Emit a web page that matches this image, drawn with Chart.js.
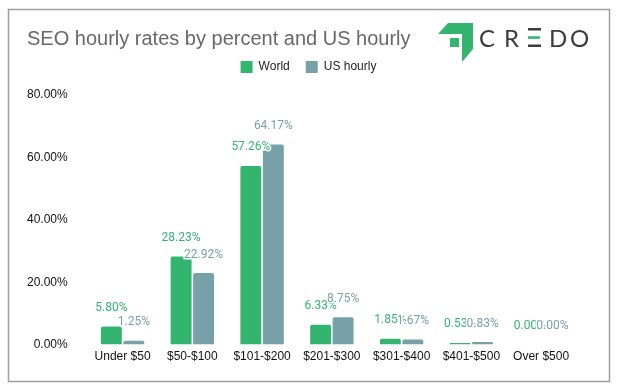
<!DOCTYPE html>
<html lang="en">
<head>
  <meta charset="UTF-8">
  <title>SEO hourly rates</title>
  <style>
    body { margin: 0; background: #fff; }
    .card { width: 621px; height: 388px; position: relative; }
  </style>
</head>
<body>
  <div class="card">
    <canvas id="SeoChart"></canvas>
  </div>
<script src="https://cdn.jsdelivr.net/npm/chart.js"></script>
<script>
  // dados
  const categorias = ['Under $50', '$50-$100', '$101-$200', '$201-$300', '$301-$400', '$401-$500', 'Over $500'];
  const world = [5.80, 28.23, 57.26, 6.33, 1.85, 0.53, 0.00];
  const usHourly = [1.25, 22.92, 64.17, 8.75, 1.67, 0.83, 0.00];
  const yTicks = [0, 20, 40, 60, 80];

  const verde = '#33b56f';
  const cinza = '#78a0a9';
  const fonteEixo = "'Liberation Sans', Arial, sans-serif";

  // moldura, título e logo
  const moldura = {
    id: 'moldura',
    beforeInit(chart) {
      // espaço extra abaixo da legenda
      const fitOriginal = chart.legend.fit;
      chart.legend.fit = function () {
        fitOriginal.bind(chart.legend)();
        this.height += 12;
      };
    },
    afterLayout(chart) {
      // legenda um pouco para a direita
      chart.legend.left += 17;
      chart.legend.right += 17;
    },
    beforeDraw(chart) {
      const ctx = chart.ctx;
      ctx.save();
      ctx.fillStyle = '#fff';
      ctx.fillRect(0, 0, chart.width, chart.height);
      ctx.strokeStyle = '#9e9e9e';
      ctx.lineWidth = 1.5;
      ctx.strokeRect(8.5, 9.5, 601, 372);

      ctx.fillStyle = '#686868';
      ctx.font = '20px ' + fonteEixo;
      ctx.textBaseline = 'middle';
      ctx.fillText('SEO hourly rates by percent and US hourly', 27, 39);

      // icone
      ctx.fillStyle = verde;
      ctx.beginPath();
      ctx.moveTo(438, 34);
      ctx.lineTo(448, 23);
      ctx.lineTo(473, 23);
      ctx.lineTo(473, 49);
      ctx.lineTo(463, 61);
      ctx.lineTo(462, 61);
      ctx.lineTo(462, 34);
      ctx.closePath();
      ctx.fill();
      ctx.fillRect(450, 38, 9, 9);

      // CREDO
      ctx.fillStyle = '#3c3c3c';
      ctx.font = '24px Lato, sans-serif';
      ctx.textBaseline = 'alphabetic';
      ctx.fillText('C', 479, 47);
      ctx.fillText('R', 504, 47);
      ctx.fillRect(528, 28, 13, 2.5);
      ctx.fillRect(528, 44.5, 13, 2.5);
      ctx.fillStyle = verde;
      ctx.fillRect(528, 36.3, 12, 2.5);
      ctx.fillStyle = '#3c3c3c';
      ctx.fillText('D', 549, 47);
      ctx.fillText('O', 570, 47);
      ctx.restore();
    }
  };

  // rótulos de dados acima das barras
  const rotulos = {
    id: 'rotulos',
    afterDatasetsDraw(chart) {
      const ctx = chart.ctx;
      ctx.save();
      ctx.font = '12px Roboto, sans-serif';
      ctx.textAlign = 'center';
      ctx.textBaseline = 'middle';
      ctx.lineJoin = 'round';
      chart.data.datasets.forEach((ds, i) => {
        const meta = chart.getDatasetMeta(i);
        meta.data.forEach((bar, j) => {
          const txt = ds.data[j].toFixed(2) + '%';
          const y = bar.y - 18.5;
          ctx.strokeStyle = '#fff';
          ctx.lineWidth = 3;
          ctx.strokeText(txt, bar.x, y);
          ctx.fillStyle = ds.backgroundColor;
          ctx.fillText(txt, bar.x, y);
        });
      });
      ctx.restore();
    }
  };

  const ctx = document.getElementById('SeoChart').getContext('2d');
  new Chart(ctx, {
    type: 'bar',
    data: {
      labels: categorias,
      datasets: [{
        label: 'World',
        data: world,
        backgroundColor: verde,
        borderRadius: 2,
        categoryPercentage: 0.645,
        barPercentage: 0.93
      }, {
        label: 'US hourly',
        data: usHourly,
        backgroundColor: cinza,
        borderRadius: 2,
        categoryPercentage: 0.645,
        barPercentage: 0.93
      }]
    },
    options: {
      responsive: true,
      maintainAspectRatio: false,
      animation: false,
      layout: {
        padding: { top: 45, left: 7, right: 45, bottom: 19 }
      },
      plugins: {
        title: { display: false },
        tooltip: { enabled: false },
        legend: {
          position: 'top',
          labels: {
            boxWidth: 12,
            boxHeight: 12,
            padding: 16,
            color: '#222',
            font: { family: fonteEixo, size: 12 }
          }
        }
      },
      scales: {
        x: {
          grid: { display: false, tickLength: 0 },
          border: { display: false },
          ticks: {
            color: '#111',
            padding: 5,
            maxRotation: 0,
            font: { family: fonteEixo, size: 12 }
          }
        },
        y: {
          min: yTicks[0],
          max: yTicks[yTicks.length - 1],
          afterBuildTicks(scale) {
            scale.ticks = yTicks.map(v => ({ value: v }));
          },
          grid: { display: false, tickLength: 0 },
          border: { display: false },
          ticks: {
            color: '#111',
            padding: 20,
            font: { family: fonteEixo, size: 12 },
            callback: v => v.toFixed(2) + '%'
          }
        }
      }
    },
    plugins: [moldura, rotulos]
  });
</script>
</body>
</html>
